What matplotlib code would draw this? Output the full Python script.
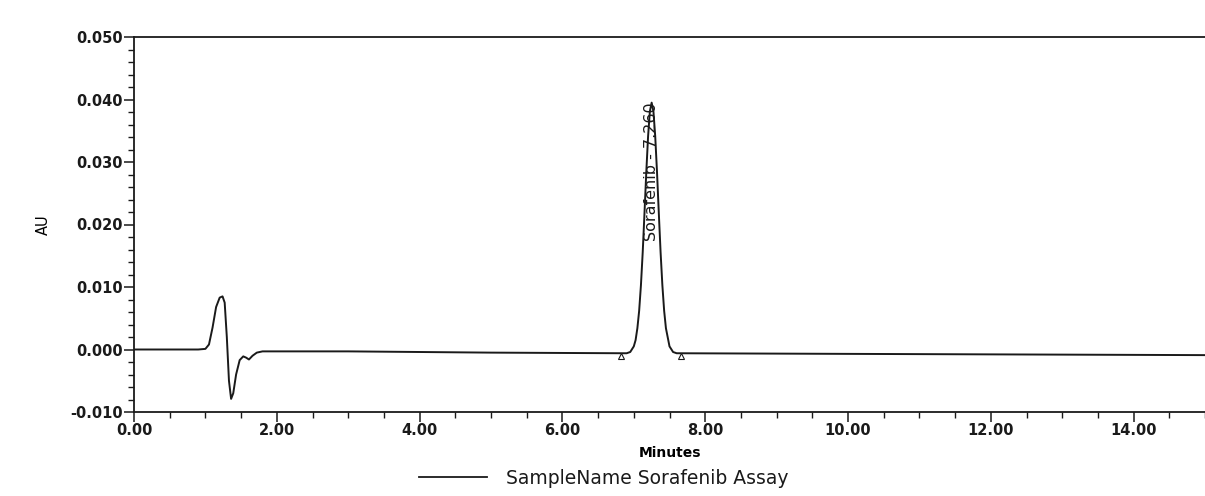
import matplotlib as mpl
import matplotlib.pyplot as plt
from matplotlib.lines import Line2D
from matplotlib.ticker import MultipleLocator, FormatStrFormatter

INK = "#1a1a1a"

# chromatogram trace (minutes, AU)
time_min = [
    0.00, 0.90, 1.00, 1.05, 1.10, 1.15, 1.20, 1.24, 1.27, 1.30,
    1.33, 1.36, 1.39, 1.43, 1.48, 1.53, 1.57, 1.61, 1.66, 1.72,
    1.80, 3.00, 5.00, 6.85, 6.90, 6.95, 7.00, 7.025, 7.05, 7.075,
    7.10, 7.125, 7.15, 7.175, 7.20, 7.225, 7.25, 7.275, 7.30, 7.325,
    7.35, 7.375, 7.40, 7.425, 7.45, 7.50, 7.55, 7.60, 10.00, 15.00,
]
absorbance = [
    0.0000, 0.0000, 0.0001, 0.0008, 0.0035, 0.0068, 0.0083, 0.0085, 0.0075, 0.0020,
    -0.0050, -0.0079, -0.0070, -0.0040, -0.0017, -0.0011, -0.0013, -0.0016, -0.0010, -0.0005,
    -0.0003, -0.0003, -0.0005, -0.0006, -0.0006, -0.0004, 0.0005, 0.0015, 0.0034, 0.0062,
    0.0103, 0.0156, 0.0219, 0.0284, 0.0341, 0.0381, 0.0395, 0.0381, 0.0341, 0.0284,
    0.0219, 0.0156, 0.0103, 0.0062, 0.0034, 0.0005, -0.0004, -0.0006, -0.0007, -0.0009,
]

# integration start/end markers and peak annotation
marker_t = [6.82, 7.66]
marker_au = [-0.0010, -0.0010]
peak_t = 7.25
peak_au = 0.0395
peak_label = "Sorafenib - 7.260"

x_ticks = [0, 2, 4, 6, 8, 10, 12, 14]
series_name = "SampleName Sorafenib Assay"

mpl.rcParams.update({
    "font.family": ["DejaVu Sans"],
    "text.color": INK,
    "axes.edgecolor": INK,
    "xtick.color": INK,
    "ytick.color": INK,
})

fig = plt.figure(figsize=(12.05, 4.96), dpi=100)
ax = fig.add_axes([134 / 1205, 84 / 496, 1 - 134 / 1205, 375 / 496])

ax.plot(time_min, absorbance, color=INK, lw=1.4)
ax.plot(marker_t, marker_au, linestyle="none", marker="^", ms=5,
        markerfacecolor="white", markeredgecolor=INK, markeredgewidth=0.8)
ax.text(peak_t, peak_au, peak_label, rotation=90, ha="center", va="top",
        fontsize=11.5, color=INK)

ax.set_xlim(0, 15)
ax.set_ylim(-0.010, 0.050)
ax.set_xticks(x_ticks)
ax.xaxis.set_major_formatter(FormatStrFormatter("%.2f"))
ax.xaxis.set_minor_locator(MultipleLocator(0.5))
ax.yaxis.set_major_locator(MultipleLocator(0.010))
ax.yaxis.set_minor_locator(MultipleLocator(0.002))
ax.yaxis.set_major_formatter(FormatStrFormatter("%.3f"))

ax.spines["right"].set_visible(False)
for s in ("left", "bottom", "top"):
    ax.spines[s].set_linewidth(1.3)

ax.tick_params(which="major", direction="out", length=7, width=1.1,
               labelsize=10.5, pad=1)
ax.tick_params(which="minor", direction="out", length=4, width=1.0)
for lab in ax.get_xticklabels() + ax.get_yticklabels():
    lab.set_fontweight("semibold")

ax.set_xlabel("Minutes", fontsize=10, fontweight="bold", labelpad=6)
ax.set_ylabel("AU", fontsize=10.5, labelpad=14)

handle = Line2D([], [], color=INK, lw=1.3)
fig.legend([handle], [series_name], loc="center", bbox_to_anchor=(0.501, 0.036),
           frameon=False, fontsize=13.5, handlelength=3.6, handletextpad=1.0)

fig.savefig("out.png", dpi=100)
